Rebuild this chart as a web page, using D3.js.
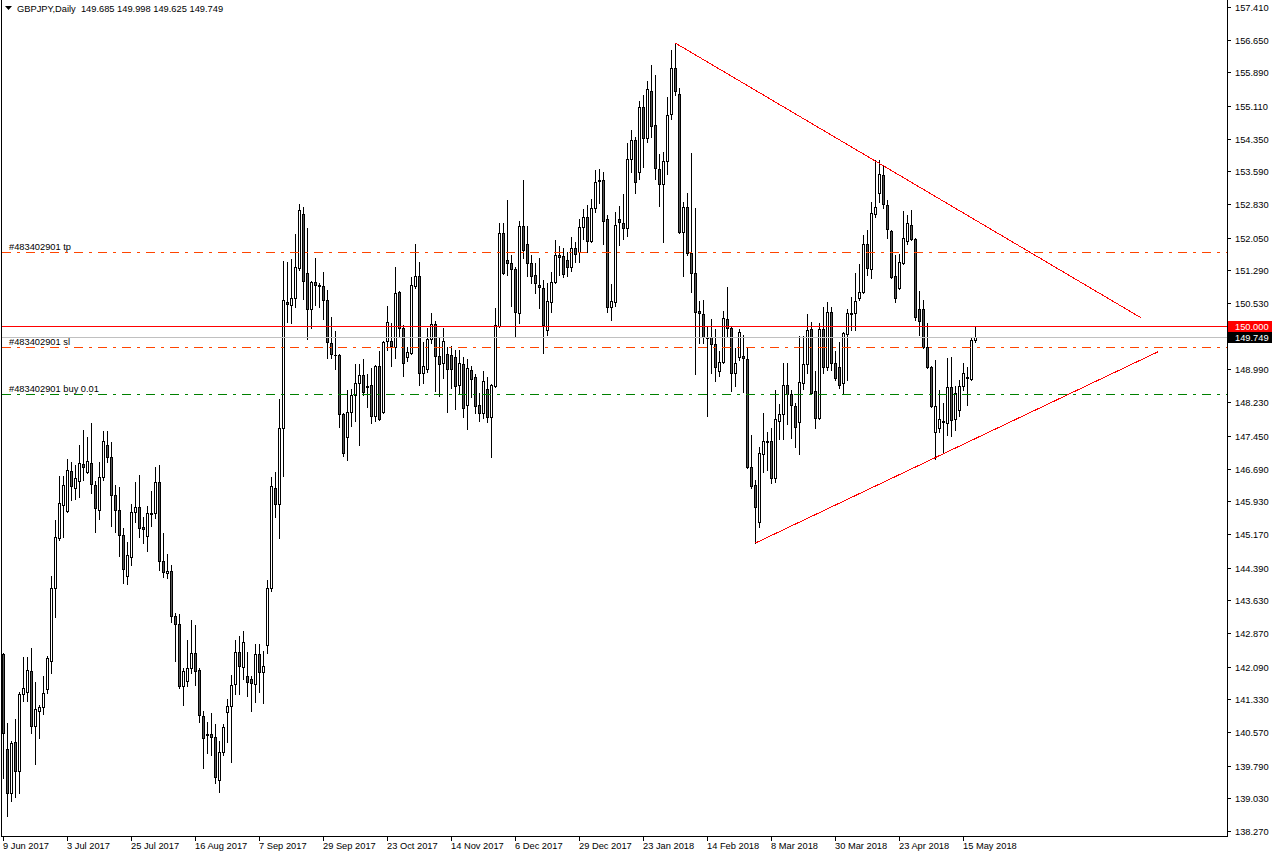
<!DOCTYPE html>
<html>
<head>
<meta charset="utf-8">
<title>GBPJPY,Daily</title>
<script src="https://d3js.org/d3.v7.min.js"></script>
<style>
  body { margin: 0; background: #fff; }
  svg text { font-family: "Liberation Sans", Arial, sans-serif; font-size: 9.3px; fill: #000; }
</style>
</head>
<body>
<div id="chart"></div>
<script>
// daily bars, oldest first (bar 0 = 9 Jun 2017, last = 18 May 2018)
var opens = [142.38,140.17,139.15,140.34,139.66,141.45,141.50,141.99,140.71,141.06,
  141.15,141.57,142.22,143.91,145.07,145.84,145.70,146.63,146.24,146.40,
  146.79,146.61,146.82,146.31,145.73,146.49,147.24,146.96,146.07,145.73,
  145.14,144.19,144.63,145.68,145.80,145.33,145.12,145.66,145.66,146.38,
  144.54,144.26,144.31,143.26,143.08,141.64,141.75,142.05,142.40,142.01,
  140.94,140.52,140.52,140.45,139.45,140.10,141.03,141.17,141.68,142.43,
  142.08,141.87,141.80,141.68,142.38,141.96,142.59,143.91,146.24,145.87,
  147.63,150.55,150.49,150.65,151.34,152.60,151.23,150.40,151.02,150.95,
  150.92,150.60,149.61,149.33,149.33,147.96,147.42,148.00,148.40,148.68,
  148.86,148.61,148.63,147.91,149.07,148.00,149.65,149.65,149.51,150.79,
  149.95,149.28,149.37,150.93,151.16,148.91,149.00,149.70,150.05,149.30,
  149.14,149.35,149.33,149.28,148.63,149.12,148.17,148.98,148.82,148.17,
  147.98,148.54,147.89,148.61,150.00,152.16,151.53,151.46,151.32,150.30,
  152.32,151.91,151.46,151.19,150.95,150.88,149.91,150.56,151.02,151.65,
  151.62,151.53,151.37,151.81,151.72,152.30,152.53,151.98,152.74,153.37,
  153.39,152.49,150.44,150.56,152.49,152.39,152.28,153.88,154.32,153.58,
  155.09,154.37,155.46,154.67,153.65,153.30,153.83,154.92,155.99,155.39,
  152.18,152.76,151.70,151.23,150.35,150.28,149.74,149.74,149.58,148.96,
  149.16,150.16,149.95,148.91,149.28,149.30,149.23,146.72,146.31,145.45,
  147.03,147.33,147.33,146.47,147.79,147.96,148.63,148.42,148.14,147.77,
  148.68,149.12,149.93,148.49,147.86,149.93,149.05,150.33,149.14,149.05,
  148.68,149.81,150.28,150.30,150.65,150.79,151.91,151.32,152.60,153.09,
  153.51,152.81,152.21,151.16,150.88,151.46,151.98,152.35,152.02,150.40,
  150.40,149.51,149.05,147.54,147.63,147.79,147.75,148.58,147.84,148.05,
  148.61,148.82,148.77,149.685];

var highs = [142.40,140.78,140.36,140.87,141.50,142.31,142.31,142.52,141.73,141.20,
  141.87,142.33,144.19,145.49,146.52,146.52,146.91,146.84,146.77,147.24,
  147.58,147.42,147.75,146.40,146.84,147.56,147.56,147.31,146.31,146.26,
  145.31,144.98,145.87,146.38,146.54,145.56,145.82,146.16,146.73,146.77,
  145.19,144.70,144.45,143.33,143.31,142.05,142.70,143.17,143.05,142.05,
  141.06,140.80,141.01,140.75,140.36,140.75,141.34,141.89,142.71,142.80,
  142.92,142.43,141.87,142.61,142.61,142.46,144.10,146.49,146.61,148.30,
  151.51,151.49,151.56,152.14,152.83,152.76,152.27,151.05,151.58,151.00,
  151.26,150.84,150.21,149.88,149.35,147.98,148.51,148.54,149.12,149.12,
  149.23,148.89,149.02,149.09,149.42,149.66,150.47,150.07,151.37,150.81,
  150.02,149.51,151.14,151.91,151.49,149.63,149.95,150.30,150.12,149.72,
  149.95,149.51,149.54,149.44,149.44,149.28,149.23,149.07,148.89,148.44,
  148.96,148.82,148.66,150.42,152.39,152.39,152.93,151.65,151.37,152.44,
  153.39,152.32,151.65,151.46,151.58,151.07,151.00,151.25,152.00,151.86,
  151.81,151.72,152.07,151.95,152.49,152.72,152.81,152.95,153.62,153.65,
  153.58,152.58,150.98,152.65,152.79,153.07,154.25,154.55,154.39,155.23,
  155.37,155.69,156.06,155.83,154.00,154.04,155.32,156.41,156.57,155.53,
  152.88,153.09,154.02,152.74,150.58,150.60,149.98,150.16,149.93,149.42,
  150.35,150.91,149.97,149.49,149.93,149.79,149.49,147.47,146.42,147.19,
  147.98,147.54,147.63,148.51,148.19,149.14,149.14,148.51,148.21,149.77,
  149.77,150.28,150.09,148.96,150.07,150.44,150.56,150.44,149.42,149.63,
  149.86,150.40,150.67,151.23,151.44,152.11,152.23,152.88,153.86,153.86,
  153.74,152.93,152.23,151.65,151.67,152.67,152.58,152.70,152.05,150.81,
  150.60,150.07,149.07,149.21,148.51,148.21,149.26,149.28,148.61,148.75,
  149.14,149.05,149.72,149.998];

var lows = [139.50,138.62,138.97,139.06,139.15,141.29,141.29,140.55,139.82,140.43,
  140.99,141.47,141.94,143.24,145.03,145.10,145.68,145.96,145.98,146.03,
  146.42,146.59,146.12,145.21,145.52,146.42,146.84,145.35,145.21,144.66,
  144.03,144.01,144.45,145.45,145.10,144.96,144.77,145.35,145.54,144.33,
  144.17,144.14,143.12,142.22,141.59,141.20,141.64,141.94,141.66,140.80,
  139.73,140.08,140.03,139.38,139.17,140.03,140.34,139.87,141.45,141.45,
  141.80,141.41,141.06,141.27,141.50,141.24,142.40,143.84,145.56,145.08,
  146.52,150.09,150.07,150.44,151.30,150.63,149.70,149.95,150.49,150.44,
  150.16,149.26,149.26,149.00,147.65,146.98,146.89,147.68,147.79,147.24,
  148.40,148.12,147.75,147.79,147.81,147.98,149.44,149.07,149.26,149.74,
  148.84,149.19,149.35,150.88,148.63,148.68,148.93,149.61,148.49,148.37,
  148.79,148.00,148.56,148.07,148.44,147.89,147.61,148.35,147.98,147.79,
  147.86,147.77,146.96,148.58,149.98,151.21,151.19,150.47,149.74,150.07,
  151.58,151.16,151.00,150.77,150.42,149.37,149.79,150.33,151.00,151.19,
  151.14,151.16,151.28,151.49,151.49,152.02,151.72,151.95,152.65,152.86,
  151.91,150.33,150.14,150.47,151.88,152.02,152.09,153.58,153.09,153.42,
  153.69,154.27,154.39,153.42,152.79,151.95,153.53,154.81,155.37,152.16,
  151.16,151.65,150.79,148.89,149.61,149.61,147.91,148.91,148.72,148.84,
  149.14,149.77,148.49,148.61,149.21,148.47,146.70,146.24,144.96,145.33,
  146.61,146.66,146.35,146.38,147.38,147.38,147.72,147.40,147.19,147.03,
  148.54,148.91,148.42,147.63,147.84,148.91,148.98,148.98,148.75,148.56,
  148.44,148.75,149.91,149.91,150.60,150.77,151.19,151.12,152.53,152.88,
  152.74,152.04,151.12,150.56,150.86,151.44,151.91,152.00,150.14,149.79,
  149.49,149.03,148.12,146.91,147.54,147.05,147.47,147.45,147.58,147.91,
  148.51,148.17,148.75,149.625];

var closes = [140.55,139.15,140.31,139.66,141.45,141.59,142.01,140.71,141.10,141.15,
  141.47,142.29,143.91,145.10,145.89,146.31,146.66,146.28,146.47,146.82,
  146.72,146.86,146.33,145.77,146.49,147.33,146.96,146.07,145.73,145.14,
  144.36,144.68,145.68,145.80,145.31,145.28,145.66,145.63,146.38,144.54,
  144.29,144.31,143.26,143.08,141.64,141.99,142.05,142.40,141.99,140.96,
  140.43,140.50,140.45,139.52,140.10,140.69,141.17,141.67,142.43,142.10,
  142.67,141.73,141.71,142.38,141.96,142.10,143.91,146.28,145.87,147.63,
  150.60,150.50,150.65,151.37,152.69,151.05,150.40,151.02,150.96,150.93,
  150.60,149.63,149.35,149.32,147.96,147.05,148.00,148.40,148.68,148.86,
  148.47,148.58,147.91,149.07,147.84,149.63,150.09,149.54,150.77,149.95,
  149.14,149.40,150.95,151.16,148.91,149.07,149.70,150.05,149.30,149.12,
  149.65,149.00,149.00,148.61,149.14,148.10,149.02,148.77,148.14,147.98,
  148.72,147.89,148.63,150.02,152.16,151.23,151.46,151.32,150.33,152.32,
  151.77,151.46,151.16,151.00,150.91,150.02,150.58,151.02,151.65,151.60,
  151.21,151.37,151.81,151.67,152.30,152.53,151.98,152.74,153.35,153.39,
  152.44,150.44,150.58,152.35,152.42,152.28,153.88,154.32,153.35,155.09,
  154.37,155.51,154.65,153.67,153.30,153.83,154.90,155.99,155.46,152.18,
  152.76,151.70,151.23,150.33,150.30,149.74,149.72,149.58,149.05,149.16,
  150.19,149.95,148.91,149.14,149.86,149.26,146.72,146.28,145.80,147.05,
  147.33,147.31,146.47,147.84,147.96,148.63,148.42,148.17,147.65,148.70,
  149.12,149.91,148.44,147.86,149.93,149.05,150.33,149.14,148.79,148.63,
  149.84,150.30,150.30,150.58,150.79,151.91,151.35,152.63,152.76,153.53,
  152.83,152.25,151.14,150.65,151.49,152.04,152.39,152.02,150.21,150.12,
  149.51,149.05,148.14,148.14,147.84,147.78,148.58,147.82,148.44,148.61,
  148.91,148.80,149.67,149.749];

var priceTicks = [157.410,156.650,155.890,155.110,154.350,153.590,152.830,152.050,151.290,150.530,
  148.990,148.230,147.450,146.690,145.930,145.170,144.390,143.630,142.870,142.090,
  141.330,140.570,139.790,139.030,138.270];

var dateLabels = ["9 Jun 2017","3 Jul 2017","25 Jul 2017","16 Aug 2017","7 Sep 2017","29 Sep 2017",
  "23 Oct 2017","14 Nov 2017","6 Dec 2017","29 Dec 2017","23 Jan 2018","14 Feb 2018",
  "8 Mar 2018","30 Mar 2018","23 Apr 2018","15 May 2018"];
var dateBars = [0,16,32,48,64,80,96,112,128,144,160,176,192,208,224,240];

// order levels: label, price, colour
var levelNames = ["#483402901 tp", "#483402901 sl", "#483402901 buy 0.01"];
var levelPrices = [151.71, 149.51, 148.43];
var levelColors = ["#ff4500", "#ff4500", "#008000"];

var alertPrice = 150.000;
var bidPrice = 149.749;

// trend lines as [bar, price] pairs
var upperTrend = [[168, 156.57], [284.4, 150.19]];
var lowerTrend = [[188, 144.96], [288.6, 149.40]];

var W = 1272, H = 856;
var plotLeft = 2, plotRight = 1227, plotBottom = 836;

var svg = d3.select("#chart").append("svg")
    .attr("width", W)
    .attr("height", H);

svg.append("rect").attr("width", W).attr("height", H).attr("fill", "#fff");

var x = d3.scaleLinear().domain([0, 306]).range([3.5, 3.5 + 4 * 306]);
var y = d3.scaleLinear().domain([138.27, 157.41]).range([831, 7]);
function py(v) { return Math.round(y(v)); }

var bars = d3.range(opens.length).map(function(i) {
    return {i: i, o: opens[i], h: highs[i], l: lows[i], c: closes[i]};
});

svg.append("clipPath").attr("id", "plotclip")
  .append("rect")
    .attr("x", plotLeft).attr("y", 0)
    .attr("width", plotRight - plotLeft).attr("height", plotBottom);

var plot = svg.append("g").attr("clip-path", "url(#plotclip)");

// candles
var candle = plot.selectAll(".bar")
    .data(bars)
    .enter().append("g")
    .attr("class", "bar")
    .attr("shape-rendering", "crispEdges");

candle.append("rect")
    .attr("x", function(d) { return x(d.i) - 0.5; })
    .attr("y", function(d) { return py(d.h); })
    .attr("width", 1)
    .attr("height", function(d) { return py(d.l) - py(d.h) + 1; })
    .attr("fill", "#000");

candle.append("rect")
    .attr("x", function(d) { return x(d.i) - 1.5; })
    .attr("y", function(d) { return py(Math.max(d.o, d.c)); })
    .attr("width", 3)
    .attr("height", function(d) { return py(Math.min(d.o, d.c)) - py(Math.max(d.o, d.c)) + 1; })
    .attr("fill", "#000");

candle.filter(function(d) { return py(Math.min(d.o, d.c)) - py(Math.max(d.o, d.c)) > 1; })
  .append("rect")
    .attr("x", function(d) { return x(d.i) - 0.5; })
    .attr("y", function(d) { return py(Math.max(d.o, d.c)) + 1; })
    .attr("width", 1)
    .attr("height", function(d) { return py(Math.min(d.o, d.c)) - py(Math.max(d.o, d.c)) - 1; })
    .attr("fill", function(d) { return d.c >= d.o ? "#fff" : "#555"; });

// alert line and bid line
plot.append("line")
    .attr("x1", plotLeft).attr("x2", plotRight)
    .attr("y1", py(alertPrice) + 0.5).attr("y2", py(alertPrice) + 0.5)
    .attr("stroke", "#ff0000");
plot.append("line")
    .attr("x1", plotLeft).attr("x2", plotRight)
    .attr("y1", py(bidPrice) + 0.5).attr("y2", py(bidPrice) + 0.5)
    .attr("stroke", "#c0c0c0");

// order lines
levelPrices.forEach(function(p, k) {
    plot.append("line")
        .attr("x1", plotLeft).attr("x2", plotRight)
        .attr("y1", py(p) + 0.5).attr("y2", py(p) + 0.5)
        .attr("stroke", levelColors[k])
        .attr("stroke-dasharray", "9,6,3,6");
    plot.append("text")
        .attr("x", 9)
        .attr("y", py(p) - 2)
        .text(levelNames[k]);
});

// trend lines
[upperTrend, lowerTrend].forEach(function(t) {
    plot.append("line")
        .attr("x1", x(t[0][0])).attr("y1", y(t[0][1]))
        .attr("x2", x(t[1][0])).attr("y2", y(t[1][1]))
        .attr("stroke", "#ff0000")
        .attr("shape-rendering", "crispEdges");
});

// frame
var frame = svg.append("g").attr("shape-rendering", "crispEdges");
frame.append("line").attr("x1", 1.5).attr("x2", 1.5).attr("y1", 0).attr("y2", plotBottom + 0.5).attr("stroke", "#000");
frame.append("line").attr("x1", plotRight + 0.5).attr("x2", plotRight + 0.5).attr("y1", 0).attr("y2", plotBottom + 0.5).attr("stroke", "#000");
frame.append("line").attr("x1", 1.5).attr("x2", plotRight + 0.5).attr("y1", plotBottom + 0.5).attr("y2", plotBottom + 0.5).attr("stroke", "#000");

// price axis
var pAxis = svg.append("g");
pAxis.selectAll(".ptick")
    .data(priceTicks)
    .enter().append("line")
    .attr("x1", plotRight + 1).attr("x2", plotRight + 4)
    .attr("y1", function(d) { return py(d) + 0.5; })
    .attr("y2", function(d) { return py(d) + 0.5; })
    .attr("stroke", "#000")
    .attr("shape-rendering", "crispEdges");
pAxis.selectAll(".plabel")
    .data(priceTicks)
    .enter().append("text")
    .attr("x", 1235)
    .attr("y", function(d) { return py(d) + 4; })
    .text(function(d) { return d.toFixed(3); });

// tagged prices on the axis
[[alertPrice, "#ff0000"], [bidPrice, "#000"]].forEach(function(t) {
    var yy = py(t[0]);
    pAxis.append("rect")
        .attr("x", plotRight + 1).attr("y", yy - 5)
        .attr("width", W - plotRight - 1).attr("height", 11)
        .attr("fill", t[1]);
    pAxis.append("text")
        .attr("x", 1235).attr("y", yy + 4)
        .style("fill", "#fff")
        .text(t[0].toFixed(3));
});

// time axis
var tAxis = svg.append("g");
tAxis.selectAll(".ttick")
    .data(dateBars)
    .enter().append("line")
    .attr("x1", function(d) { return x(d); })
    .attr("x2", function(d) { return x(d); })
    .attr("y1", plotBottom + 1).attr("y2", plotBottom + 5)
    .attr("stroke", "#000")
    .attr("shape-rendering", "crispEdges");
tAxis.selectAll(".tlabel")
    .data(dateBars)
    .enter().append("text")
    .attr("x", function(d) { return x(d) - 0.5; })
    .attr("y", 849)
    .text(function(d, k) { return dateLabels[k]; });

// title
svg.append("path")
    .attr("d", "M5,6 L12,6 L8.5,10 Z")
    .attr("fill", "#000");
svg.append("text")
    .attr("x", 17).attr("y", 12)
    .attr("xml:space", "preserve")
    .style("white-space", "pre")
    .text("GBPJPY,Daily  149.685 149.998 149.625 149.749");
</script>
</body>
</html>
